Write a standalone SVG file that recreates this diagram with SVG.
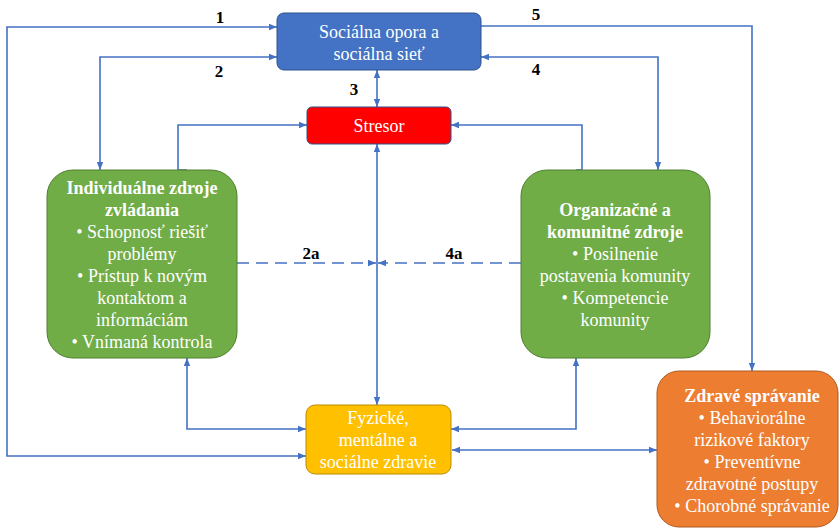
<svg xmlns="http://www.w3.org/2000/svg" width="840" height="529" viewBox="0 0 840 529">
<style>
.t{font-family:"Liberation Serif","Times New Roman",serif;font-size:18px;fill:#fff;text-anchor:middle}
.b{font-weight:bold}
.n{font-family:"Liberation Serif","Times New Roman",serif;font-size:17px;font-weight:bold;fill:#000;text-anchor:middle}
.c{fill:none;stroke:#4472C4;stroke-width:1.6}
.d{stroke-dasharray:12 7}
</style>
<defs>
<marker id="a" viewBox="0 0 8 8" refX="8" refY="4" markerWidth="8" markerHeight="8" markerUnits="userSpaceOnUse" orient="auto-start-reverse">
<path d="M0,0.8 L8,4 L0,7.2 Z" fill="#4472C4"/>
</marker>
</defs>
<rect width="840" height="529" fill="#fff"/>
<g id="connectors">
<path class="c" d="M277,27 H7 V456 H306" marker-start="url(#a)" marker-end="url(#a)"/>
<path class="c" d="M277,57 H100 V170" marker-start="url(#a)" marker-end="url(#a)"/>
<path class="c" d="M187,170 H178 V125 H307" marker-end="url(#a)"/>
<path class="c" d="M377,70 V107" marker-start="url(#a)" marker-end="url(#a)"/>
<path class="c" d="M481,26 H752 V371" marker-end="url(#a)"/>
<path class="c" d="M481,57 H658 V170" marker-start="url(#a)" marker-end="url(#a)"/>
<path class="c" d="M576,170 H582 V125 H451" marker-end="url(#a)"/>
<path class="c" d="M377,144 V405" marker-start="url(#a)" marker-end="url(#a)"/>
<path class="c d" d="M237,263 H376" marker-end="url(#a)"/>
<path class="c d" d="M521,263 H378" marker-end="url(#a)"/>
<path class="c" d="M187,358 V429 H306" marker-start="url(#a)" marker-end="url(#a)"/>
<path class="c" d="M576,358 V429 H451" marker-start="url(#a)" marker-end="url(#a)"/>
<path class="c" d="M452,450 H657" marker-start="url(#a)" marker-end="url(#a)"/>
<text class="n" x="220" y="23">1</text>
<text class="n" x="219" y="77">2</text>
<text class="n" x="354" y="95">3</text>
<text class="n" x="536" y="20">5</text>
<text class="n" x="536" y="75">4</text>
<text class="n" x="311" y="259">2a</text>
<text class="n" x="454" y="259">4a</text>
</g>
<g id="socialna">
<rect x="277" y="13" width="204" height="57" rx="7" fill="#4472C4" stroke="#2F528F" stroke-width="1"/>
<text class="t" x="379" y="38">Sociálna opora a</text>
<text class="t" x="379" y="60">sociálna sieť</text>
</g>
<g id="stresor">
<rect x="307" y="107" width="144" height="37" rx="5" fill="#FF0000" stroke="#2F528F" stroke-width="1"/>
<text class="t" x="379" y="132">Stresor</text>
</g>
<g id="individualne">
<rect x="47" y="170" width="190" height="188" rx="26" fill="#70AD47" stroke="#507E32" stroke-width="1"/>
<text class="t b" x="142" y="194">Individuálne zdroje</text>
<text class="t b" x="142" y="216">zvládania</text>
<text class="t" x="142" y="238">• Schopnosť riešiť</text>
<text class="t" x="142" y="260">problémy</text>
<text class="t" x="142" y="282">• Prístup k novým</text>
<text class="t" x="142" y="304">kontaktom a</text>
<text class="t" x="142" y="326">informáciám</text>
<text class="t" x="142" y="348">• Vnímaná kontrola</text>
</g>
<g id="organizacne">
<rect x="521" y="170" width="189" height="188" rx="26" fill="#70AD47" stroke="#507E32" stroke-width="1"/>
<text class="t b" x="615" y="216">Organizačné a</text>
<text class="t b" x="615" y="238">komunitné zdroje</text>
<text class="t" x="615" y="260">• Posilnenie</text>
<text class="t" x="615" y="282">postavenia komunity</text>
<text class="t" x="615" y="304">• Kompetencie</text>
<text class="t" x="615" y="326">komunity</text>
</g>
<g id="zdravie">
<rect x="306" y="405" width="145" height="69" rx="9" fill="#FFC000" stroke="#BC8C00" stroke-width="1"/>
<text class="t" x="378" y="424">Fyzické,</text>
<text class="t" x="378" y="446">mentálne a</text>
<text class="t" x="378" y="468">sociálne zdravie</text>
</g>
<g id="spravanie">
<rect x="657" y="371" width="181" height="156" rx="22" fill="#ED7D31" stroke="#AE5A21" stroke-width="1"/>
<text class="t b" x="752" y="402">Zdravé správanie</text>
<text class="t" x="752" y="424">• Behaviorálne</text>
<text class="t" x="752" y="446">rizikové faktory</text>
<text class="t" x="752" y="468">• Preventívne</text>
<text class="t" x="752" y="490">zdravotné postupy</text>
<text class="t" x="752" y="512">• Chorobné správanie</text>
</g>
</svg>
